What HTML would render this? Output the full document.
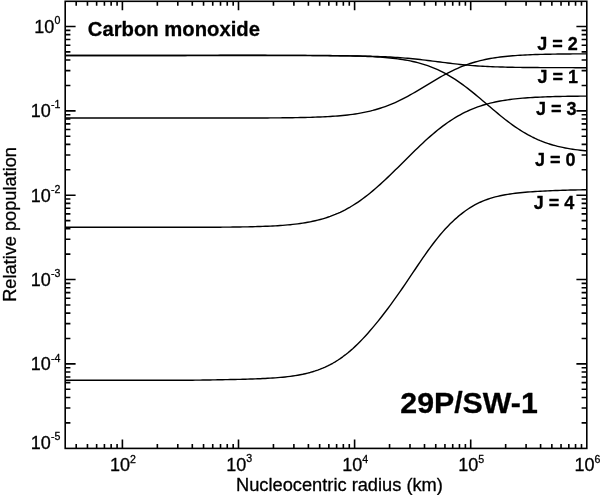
<!DOCTYPE html>
<html lang="en"><head><meta charset="utf-8"><title>Carbon monoxide relative population</title>
<style>html,body{margin:0;padding:0;background:#fff}svg{display:block}text{font-family:"Liberation Sans",sans-serif;fill:#000;stroke:#000;stroke-width:0.3px;stroke-linejoin:round}</style></head><body>
<svg width="600" height="495" viewBox="0 0 600 495">
<rect width="600" height="495" fill="#fff"/>
<path d="M76.20,448.4v-4.4M76.20,1.3v4.4M87.45,448.4v-4.4M87.45,1.3v4.4M96.64,448.4v-4.4M96.64,1.3v4.4M104.42,448.4v-4.4M104.42,1.3v4.4M111.15,448.4v-4.4M111.15,1.3v4.4M117.09,448.4v-4.4M117.09,1.3v4.4M122.40,448.4v-8.9M122.40,1.3v8.9M157.35,448.4v-4.4M157.35,1.3v4.4M177.79,448.4v-4.4M177.79,1.3v4.4M192.30,448.4v-4.4M192.30,1.3v4.4M203.55,448.4v-4.4M203.55,1.3v4.4M212.74,448.4v-4.4M212.74,1.3v4.4M220.52,448.4v-4.4M220.52,1.3v4.4M227.25,448.4v-4.4M227.25,1.3v4.4M233.19,448.4v-4.4M233.19,1.3v4.4M238.50,448.4v-8.9M238.50,1.3v8.9M273.45,448.4v-4.4M273.45,1.3v4.4M293.89,448.4v-4.4M293.89,1.3v4.4M308.40,448.4v-4.4M308.40,1.3v4.4M319.65,448.4v-4.4M319.65,1.3v4.4M328.84,448.4v-4.4M328.84,1.3v4.4M336.62,448.4v-4.4M336.62,1.3v4.4M343.35,448.4v-4.4M343.35,1.3v4.4M349.29,448.4v-4.4M349.29,1.3v4.4M354.60,448.4v-8.9M354.60,1.3v8.9M389.55,448.4v-4.4M389.55,1.3v4.4M409.99,448.4v-4.4M409.99,1.3v4.4M424.50,448.4v-4.4M424.50,1.3v4.4M435.75,448.4v-4.4M435.75,1.3v4.4M444.94,448.4v-4.4M444.94,1.3v4.4M452.72,448.4v-4.4M452.72,1.3v4.4M459.45,448.4v-4.4M459.45,1.3v4.4M465.39,448.4v-4.4M465.39,1.3v4.4M470.70,448.4v-8.9M470.70,1.3v8.9M505.65,448.4v-4.4M505.65,1.3v4.4M526.09,448.4v-4.4M526.09,1.3v4.4M540.60,448.4v-4.4M540.60,1.3v4.4M551.85,448.4v-4.4M551.85,1.3v4.4M561.04,448.4v-4.4M561.04,1.3v4.4M568.82,448.4v-4.4M568.82,1.3v4.4M575.55,448.4v-4.4M575.55,1.3v4.4M581.49,448.4v-4.4M581.49,1.3v4.4M65.2,422.86h5.2M586.8,422.86h-5.2M65.2,408.00h5.2M586.8,408.00h-5.2M65.2,397.47h5.2M586.8,397.47h-5.2M65.2,389.29h5.2M586.8,389.29h-5.2M65.2,382.61h5.2M586.8,382.61h-5.2M65.2,376.97h5.2M586.8,376.97h-5.2M65.2,372.07h5.2M586.8,372.07h-5.2M65.2,367.76h5.2M586.8,367.76h-5.2M65.2,363.90h10.4M586.8,363.90h-10.4M65.2,338.51h5.2M586.8,338.51h-5.2M65.2,323.65h5.2M586.8,323.65h-5.2M65.2,313.12h5.2M586.8,313.12h-5.2M65.2,304.94h5.2M586.8,304.94h-5.2M65.2,298.26h5.2M586.8,298.26h-5.2M65.2,292.62h5.2M586.8,292.62h-5.2M65.2,287.72h5.2M586.8,287.72h-5.2M65.2,283.41h5.2M586.8,283.41h-5.2M65.2,279.55h10.4M586.8,279.55h-10.4M65.2,254.16h5.2M586.8,254.16h-5.2M65.2,239.30h5.2M586.8,239.30h-5.2M65.2,228.77h5.2M586.8,228.77h-5.2M65.2,220.59h5.2M586.8,220.59h-5.2M65.2,213.91h5.2M586.8,213.91h-5.2M65.2,208.27h5.2M586.8,208.27h-5.2M65.2,203.37h5.2M586.8,203.37h-5.2M65.2,199.06h5.2M586.8,199.06h-5.2M65.2,195.20h10.4M586.8,195.20h-10.4M65.2,169.81h5.2M586.8,169.81h-5.2M65.2,154.95h5.2M586.8,154.95h-5.2M65.2,144.42h5.2M586.8,144.42h-5.2M65.2,136.24h5.2M586.8,136.24h-5.2M65.2,129.56h5.2M586.8,129.56h-5.2M65.2,123.92h5.2M586.8,123.92h-5.2M65.2,119.02h5.2M586.8,119.02h-5.2M65.2,114.71h5.2M586.8,114.71h-5.2M65.2,110.85h10.4M586.8,110.85h-10.4M65.2,85.46h5.2M586.8,85.46h-5.2M65.2,70.60h5.2M586.8,70.60h-5.2M65.2,60.07h5.2M586.8,60.07h-5.2M65.2,51.89h5.2M586.8,51.89h-5.2M65.2,45.21h5.2M586.8,45.21h-5.2M65.2,39.57h5.2M586.8,39.57h-5.2M65.2,34.67h5.2M586.8,34.67h-5.2M65.2,30.36h5.2M586.8,30.36h-5.2M65.2,26.50h10.4M586.8,26.50h-10.4" stroke="#000" stroke-width="1.6" fill="none"/>
<rect x="65.2" y="1.3" width="521.5999999999999" height="447.09999999999997" fill="none" stroke="#000" stroke-width="1.6"/>
<path d="M65.2,55.50 L67.7,55.50 L70.2,55.50 L72.7,55.50 L75.2,55.50 L77.7,55.50 L80.2,55.50 L82.7,55.50 L85.2,55.50 L87.7,55.50 L90.2,55.50 L92.7,55.50 L95.2,55.50 L97.7,55.50 L100.2,55.50 L102.7,55.50 L105.2,55.50 L107.7,55.50 L110.2,55.50 L112.7,55.50 L115.2,55.50 L117.7,55.50 L120.2,55.50 L122.7,55.50 L125.2,55.50 L127.7,55.50 L130.2,55.50 L132.7,55.50 L135.2,55.50 L137.7,55.50 L140.2,55.50 L142.7,55.50 L145.2,55.50 L147.7,55.50 L150.2,55.50 L152.7,55.50 L155.2,55.50 L157.7,55.50 L160.2,55.50 L162.7,55.50 L165.2,55.50 L167.7,55.50 L170.2,55.50 L172.7,55.50 L175.2,55.50 L177.7,55.50 L180.2,55.50 L182.7,55.50 L185.2,55.50 L187.7,55.50 L190.2,55.50 L192.7,55.50 L195.2,55.50 L197.7,55.50 L200.2,55.50 L202.7,55.50 L205.2,55.50 L207.7,55.50 L210.2,55.50 L212.7,55.50 L215.2,55.50 L217.7,55.50 L220.2,55.50 L222.7,55.50 L225.2,55.50 L227.7,55.50 L230.2,55.50 L232.7,55.50 L235.2,55.50 L237.7,55.50 L240.2,55.51 L242.7,55.51 L245.2,55.51 L247.7,55.51 L250.2,55.51 L252.7,55.51 L255.2,55.51 L257.7,55.51 L260.2,55.51 L262.7,55.51 L265.2,55.51 L267.7,55.52 L270.2,55.52 L272.7,55.52 L275.2,55.52 L277.7,55.52 L280.2,55.53 L282.7,55.53 L285.2,55.53 L287.7,55.53 L290.2,55.54 L292.7,55.54 L295.2,55.55 L297.7,55.55 L300.2,55.56 L302.7,55.56 L305.2,55.57 L307.7,55.58 L310.2,55.58 L312.7,55.59 L315.2,55.60 L317.7,55.61 L320.2,55.62 L322.7,55.63 L325.2,55.65 L327.7,55.66 L330.2,55.68 L332.7,55.69 L335.2,55.71 L337.7,55.73 L340.2,55.76 L342.7,55.78 L345.2,55.81 L347.7,55.84 L350.2,55.87 L352.7,55.91 L355.2,55.95 L357.7,55.99 L360.2,56.04 L362.7,56.09 L365.2,56.14 L367.7,56.21 L370.2,56.27 L372.7,56.35 L375.2,56.43 L377.7,56.51 L380.2,56.61 L382.7,56.71 L385.2,56.82 L387.7,56.94 L390.2,57.07 L392.7,57.21 L395.2,57.36 L397.7,57.53 L400.2,57.70 L402.7,57.89 L405.2,58.09 L407.7,58.30 L410.2,58.53 L412.7,58.77 L415.2,59.02 L417.7,59.28 L420.2,59.55 L422.7,59.84 L425.2,60.13 L427.7,60.44 L430.2,60.75 L432.7,61.07 L435.2,61.39 L437.7,61.71 L440.2,62.04 L442.7,62.36 L445.2,62.68 L447.7,63.00 L450.2,63.30 L452.7,63.60 L455.2,63.89 L457.7,64.17 L460.2,64.44 L462.7,64.70 L465.2,64.94 L467.7,65.17 L470.2,65.38 L472.7,65.58 L475.2,65.77 L477.7,65.94 L480.2,66.10 L482.7,66.25 L485.2,66.39 L487.7,66.51 L490.2,66.63 L492.7,66.73 L495.2,66.83 L497.7,66.91 L500.2,66.99 L502.7,67.06 L505.2,67.13 L507.7,67.19 L510.2,67.24 L512.7,67.29 L515.2,67.33 L517.7,67.37 L520.2,67.40 L522.7,67.43 L525.2,67.46 L527.7,67.49 L530.2,67.51 L532.7,67.53 L535.2,67.55 L537.7,67.56 L540.2,67.58 L542.7,67.59 L545.2,67.60 L547.7,67.61 L550.2,67.62 L552.7,67.63 L555.2,67.64 L557.7,67.64 L560.2,67.65 L562.7,67.66 L565.2,67.66 L567.7,67.67 L570.2,67.67 L572.7,67.67 L575.2,67.68 L577.7,67.68 L580.2,67.68 L582.7,67.68 L585.2,67.69 L586.5,67.69" stroke="#000" stroke-width="1.4" fill="none" stroke-linejoin="round"/>
<path d="M65.2,55.50 L67.7,55.50 L70.2,55.50 L72.7,55.50 L75.2,55.50 L77.7,55.50 L80.2,55.50 L82.7,55.50 L85.2,55.50 L87.7,55.50 L90.2,55.50 L92.7,55.50 L95.2,55.50 L97.7,55.50 L100.2,55.50 L102.7,55.50 L105.2,55.50 L107.7,55.50 L110.2,55.50 L112.7,55.50 L115.2,55.50 L117.7,55.50 L120.2,55.50 L122.7,55.50 L125.2,55.50 L127.7,55.50 L130.2,55.50 L132.7,55.50 L135.2,55.50 L137.7,55.50 L140.2,55.50 L142.7,55.50 L145.2,55.50 L147.7,55.50 L150.2,55.50 L152.7,55.50 L155.2,55.50 L157.7,55.50 L160.2,55.49 L162.7,55.49 L165.2,55.48 L167.7,55.48 L170.2,55.47 L172.7,55.47 L175.2,55.46 L177.7,55.45 L180.2,55.44 L182.7,55.44 L185.2,55.43 L187.7,55.42 L190.2,55.41 L192.7,55.40 L195.2,55.39 L197.7,55.38 L200.2,55.38 L202.7,55.37 L205.2,55.36 L207.7,55.35 L210.2,55.35 L212.7,55.34 L215.2,55.33 L217.7,55.33 L220.2,55.32 L222.7,55.32 L225.2,55.31 L227.7,55.31 L230.2,55.31 L232.7,55.31 L235.2,55.31 L237.7,55.31 L240.2,55.31 L242.7,55.31 L245.2,55.31 L247.7,55.31 L250.2,55.31 L252.7,55.32 L255.2,55.32 L257.7,55.32 L260.2,55.32 L262.7,55.32 L265.2,55.32 L267.7,55.33 L270.2,55.33 L272.7,55.33 L275.2,55.33 L277.7,55.34 L280.2,55.34 L282.7,55.34 L285.2,55.35 L287.7,55.35 L290.2,55.36 L292.7,55.36 L295.2,55.37 L297.7,55.38 L300.2,55.38 L302.7,55.39 L305.2,55.40 L307.7,55.41 L310.2,55.42 L312.7,55.43 L315.2,55.45 L317.7,55.46 L320.2,55.48 L322.7,55.50 L325.2,55.52 L327.7,55.54 L330.2,55.56 L332.7,55.59 L335.2,55.62 L337.7,55.65 L340.2,55.69 L342.7,55.73 L345.2,55.77 L347.7,55.82 L350.2,55.87 L352.7,55.93 L355.2,56.00 L357.7,56.07 L360.2,56.14 L362.7,56.23 L365.2,56.32 L367.7,56.43 L370.2,56.54 L372.7,56.67 L375.2,56.81 L377.7,56.96 L380.2,57.13 L382.7,57.31 L385.2,57.51 L387.7,57.73 L390.2,57.97 L392.7,58.24 L395.2,58.53 L397.7,58.84 L400.2,59.19 L402.7,59.57 L405.2,59.98 L407.7,60.43 L410.2,60.92 L412.7,61.45 L415.2,62.02 L417.7,62.65 L420.2,63.32 L422.7,64.05 L425.2,64.83 L427.7,65.68 L430.2,66.58 L432.7,67.55 L435.2,68.59 L437.7,69.69 L440.2,70.87 L442.7,72.12 L445.2,73.43 L447.7,74.82 L450.2,76.29 L452.7,77.82 L455.2,79.42 L457.7,81.09 L460.2,82.83 L462.7,84.63 L465.2,86.48 L467.7,88.39 L470.2,90.35 L472.7,92.35 L475.2,94.39 L477.7,96.47 L480.2,98.56 L482.7,100.68 L485.2,102.81 L487.7,104.94 L490.2,107.08 L492.7,109.20 L495.2,111.30 L497.7,113.39 L500.2,115.44 L502.7,117.46 L505.2,119.44 L507.7,121.37 L510.2,123.25 L512.7,125.07 L515.2,126.83 L517.7,128.53 L520.2,130.16 L522.7,131.72 L525.2,133.21 L527.7,134.63 L530.2,135.97 L532.7,137.25 L535.2,138.45 L537.7,139.58 L540.2,140.64 L542.7,141.63 L545.2,142.56 L547.7,143.43 L550.2,144.23 L552.7,144.98 L555.2,145.67 L557.7,146.31 L560.2,146.90 L562.7,147.44 L565.2,147.94 L567.7,148.40 L570.2,148.82 L572.7,149.21 L575.2,149.57 L577.7,149.89 L580.2,150.18 L582.7,150.45 L585.2,150.70 L586.5,150.82" stroke="#000" stroke-width="1.4" fill="none" stroke-linejoin="round"/>
<path d="M65.2,118.00 L67.7,118.00 L70.2,118.00 L72.7,118.00 L75.2,118.00 L77.7,118.00 L80.2,118.00 L82.7,118.00 L85.2,118.00 L87.7,118.00 L90.2,118.00 L92.7,118.00 L95.2,118.00 L97.7,118.00 L100.2,118.00 L102.7,118.00 L105.2,118.00 L107.7,118.00 L110.2,118.00 L112.7,118.00 L115.2,118.00 L117.7,118.00 L120.2,118.00 L122.7,118.00 L125.2,118.00 L127.7,118.00 L130.2,118.00 L132.7,118.00 L135.2,118.00 L137.7,118.00 L140.2,118.00 L142.7,118.00 L145.2,118.00 L147.7,118.00 L150.2,118.00 L152.7,118.00 L155.2,118.00 L157.7,118.00 L160.2,118.00 L162.7,118.00 L165.2,118.01 L167.7,118.01 L170.2,118.01 L172.7,118.01 L175.2,118.01 L177.7,118.02 L180.2,118.02 L182.7,118.02 L185.2,118.02 L187.7,118.03 L190.2,118.03 L192.7,118.03 L195.2,118.03 L197.7,118.04 L200.2,118.04 L202.7,118.04 L205.2,118.04 L207.7,118.04 L210.2,118.04 L212.7,118.05 L215.2,118.05 L217.7,118.05 L220.2,118.04 L222.7,118.04 L225.2,118.04 L227.7,118.04 L230.2,118.04 L232.7,118.03 L235.2,118.03 L237.7,118.03 L240.2,118.02 L242.7,118.02 L245.2,118.01 L247.7,118.01 L250.2,118.00 L252.7,117.99 L255.2,117.98 L257.7,117.98 L260.2,117.97 L262.7,117.95 L265.2,117.94 L267.7,117.93 L270.2,117.91 L272.7,117.90 L275.2,117.88 L277.7,117.86 L280.2,117.84 L282.7,117.82 L285.2,117.79 L287.7,117.76 L290.2,117.73 L292.7,117.69 L295.2,117.66 L297.7,117.61 L300.2,117.57 L302.7,117.51 L305.2,117.46 L307.7,117.39 L310.2,117.33 L312.7,117.25 L315.2,117.17 L317.7,117.07 L320.2,116.97 L322.7,116.86 L325.2,116.74 L327.7,116.61 L330.2,116.46 L332.7,116.30 L335.2,116.12 L337.7,115.93 L340.2,115.71 L342.7,115.48 L345.2,115.23 L347.7,114.95 L350.2,114.65 L352.7,114.32 L355.2,113.96 L357.7,113.57 L360.2,113.14 L362.7,112.68 L365.2,112.18 L367.7,111.64 L370.2,111.06 L372.7,110.44 L375.2,109.76 L377.7,109.04 L380.2,108.27 L382.7,107.45 L385.2,106.57 L387.7,105.64 L390.2,104.65 L392.7,103.61 L395.2,102.52 L397.7,101.37 L400.2,100.17 L402.7,98.92 L405.2,97.63 L407.7,96.29 L410.2,94.91 L412.7,93.50 L415.2,92.05 L417.7,90.58 L420.2,89.08 L422.7,87.58 L425.2,86.06 L427.7,84.55 L430.2,83.04 L432.7,81.53 L435.2,80.05 L437.7,78.59 L440.2,77.15 L442.7,75.75 L445.2,74.39 L447.7,73.07 L450.2,71.80 L452.7,70.58 L455.2,69.40 L457.7,68.28 L460.2,67.22 L462.7,66.21 L465.2,65.26 L467.7,64.36 L470.2,63.52 L472.7,62.73 L475.2,61.99 L477.7,61.30 L480.2,60.66 L482.7,60.07 L485.2,59.52 L487.7,59.02 L490.2,58.55 L492.7,58.12 L495.2,57.73 L497.7,57.37 L500.2,57.04 L502.7,56.74 L505.2,56.46 L507.7,56.21 L510.2,55.98 L512.7,55.77 L515.2,55.58 L517.7,55.40 L520.2,55.24 L522.7,55.10 L525.2,54.97 L527.7,54.85 L530.2,54.74 L532.7,54.65 L535.2,54.56 L537.7,54.48 L540.2,54.41 L542.7,54.34 L545.2,54.28 L547.7,54.23 L550.2,54.18 L552.7,54.14 L555.2,54.10 L557.7,54.06 L560.2,54.03 L562.7,54.00 L565.2,53.97 L567.7,53.95 L570.2,53.93 L572.7,53.91 L575.2,53.89 L577.7,53.87 L580.2,53.86 L582.7,53.85 L585.2,53.83 L586.5,53.83" stroke="#000" stroke-width="1.4" fill="none" stroke-linejoin="round"/>
<path d="M65.2,227.30 L67.7,227.30 L70.2,227.30 L72.7,227.30 L75.2,227.30 L77.7,227.30 L80.2,227.30 L82.7,227.30 L85.2,227.30 L87.7,227.30 L90.2,227.30 L92.7,227.30 L95.2,227.30 L97.7,227.30 L100.2,227.30 L102.7,227.30 L105.2,227.30 L107.7,227.30 L110.2,227.30 L112.7,227.30 L115.2,227.30 L117.7,227.30 L120.2,227.30 L122.7,227.30 L125.2,227.30 L127.7,227.30 L130.2,227.30 L132.7,227.30 L135.2,227.30 L137.7,227.30 L140.2,227.30 L142.7,227.30 L145.2,227.30 L147.7,227.30 L150.2,227.30 L152.7,227.30 L155.2,227.30 L157.7,227.30 L160.2,227.30 L162.7,227.30 L165.2,227.30 L167.7,227.30 L170.2,227.30 L172.7,227.30 L175.2,227.31 L177.7,227.31 L180.2,227.31 L182.7,227.31 L185.2,227.30 L187.7,227.30 L190.2,227.30 L192.7,227.30 L195.2,227.30 L197.7,227.29 L200.2,227.29 L202.7,227.28 L205.2,227.27 L207.7,227.26 L210.2,227.25 L212.7,227.24 L215.2,227.22 L217.7,227.21 L220.2,227.19 L222.7,227.17 L225.2,227.15 L227.7,227.12 L230.2,227.09 L232.7,227.06 L235.2,227.03 L237.7,227.00 L240.2,226.96 L242.7,226.92 L245.2,226.88 L247.7,226.83 L250.2,226.77 L252.7,226.71 L255.2,226.65 L257.7,226.57 L260.2,226.50 L262.7,226.41 L265.2,226.31 L267.7,226.21 L270.2,226.09 L272.7,225.97 L275.2,225.83 L277.7,225.68 L280.2,225.51 L282.7,225.33 L285.2,225.13 L287.7,224.92 L290.2,224.68 L292.7,224.42 L295.2,224.14 L297.7,223.83 L300.2,223.49 L302.7,223.13 L305.2,222.73 L307.7,222.29 L310.2,221.82 L312.7,221.31 L315.2,220.76 L317.7,220.16 L320.2,219.51 L322.7,218.81 L325.2,218.06 L327.7,217.25 L330.2,216.39 L332.7,215.45 L335.2,214.46 L337.7,213.40 L340.2,212.27 L342.7,211.06 L345.2,209.79 L347.7,208.44 L350.2,207.02 L352.7,205.52 L355.2,203.95 L357.7,202.30 L360.2,200.57 L362.7,198.78 L365.2,196.91 L367.7,194.97 L370.2,192.97 L372.7,190.90 L375.2,188.78 L377.7,186.59 L380.2,184.36 L382.7,182.07 L385.2,179.74 L387.7,177.38 L390.2,174.98 L392.7,172.55 L395.2,170.10 L397.7,167.63 L400.2,165.14 L402.7,162.65 L405.2,160.16 L407.7,157.68 L410.2,155.20 L412.7,152.74 L415.2,150.30 L417.7,147.88 L420.2,145.50 L422.7,143.15 L425.2,140.84 L427.7,138.57 L430.2,136.36 L432.7,134.20 L435.2,132.10 L437.7,130.06 L440.2,128.08 L442.7,126.17 L445.2,124.32 L447.7,122.55 L450.2,120.85 L452.7,119.23 L455.2,117.67 L457.7,116.19 L460.2,114.79 L462.7,113.46 L465.2,112.20 L467.7,111.01 L470.2,109.89 L472.7,108.84 L475.2,107.86 L477.7,106.93 L480.2,106.07 L482.7,105.27 L485.2,104.52 L487.7,103.82 L490.2,103.18 L492.7,102.58 L495.2,102.03 L497.7,101.52 L500.2,101.04 L502.7,100.61 L505.2,100.20 L507.7,99.84 L510.2,99.50 L512.7,99.18 L515.2,98.90 L517.7,98.63 L520.2,98.39 L522.7,98.17 L525.2,97.97 L527.7,97.79 L530.2,97.62 L532.7,97.46 L535.2,97.32 L537.7,97.19 L540.2,97.08 L542.7,96.97 L545.2,96.87 L547.7,96.78 L550.2,96.70 L552.7,96.63 L555.2,96.56 L557.7,96.50 L560.2,96.44 L562.7,96.39 L565.2,96.35 L567.7,96.31 L570.2,96.27 L572.7,96.24 L575.2,96.21 L577.7,96.18 L580.2,96.16 L582.7,96.13 L585.2,96.11 L586.5,96.10" stroke="#000" stroke-width="1.4" fill="none" stroke-linejoin="round"/>
<path d="M65.2,380.30 L67.7,380.30 L70.2,380.30 L72.7,380.30 L75.2,380.30 L77.7,380.30 L80.2,380.30 L82.7,380.30 L85.2,380.30 L87.7,380.30 L90.2,380.30 L92.7,380.30 L95.2,380.30 L97.7,380.30 L100.2,380.30 L102.7,380.30 L105.2,380.30 L107.7,380.30 L110.2,380.30 L112.7,380.30 L115.2,380.30 L117.7,380.30 L120.2,380.30 L122.7,380.30 L125.2,380.30 L127.7,380.30 L130.2,380.30 L132.7,380.30 L135.2,380.30 L137.7,380.30 L140.2,380.30 L142.7,380.30 L145.2,380.30 L147.7,380.30 L150.2,380.30 L152.7,380.30 L155.2,380.30 L157.7,380.30 L160.2,380.30 L162.7,380.30 L165.2,380.30 L167.7,380.30 L170.2,380.30 L172.7,380.29 L175.2,380.29 L177.7,380.28 L180.2,380.27 L182.7,380.26 L185.2,380.24 L187.7,380.23 L190.2,380.21 L192.7,380.19 L195.2,380.16 L197.7,380.13 L200.2,380.10 L202.7,380.07 L205.2,380.03 L207.7,380.00 L210.2,379.95 L212.7,379.91 L215.2,379.86 L217.7,379.82 L220.2,379.77 L222.7,379.71 L225.2,379.66 L227.7,379.61 L230.2,379.55 L232.7,379.50 L235.2,379.45 L237.7,379.39 L240.2,379.33 L242.7,379.27 L245.2,379.20 L247.7,379.13 L250.2,379.06 L252.7,378.97 L255.2,378.89 L257.7,378.79 L260.2,378.68 L262.7,378.57 L265.2,378.45 L267.7,378.31 L270.2,378.16 L272.7,378.00 L275.2,377.83 L277.7,377.63 L280.2,377.42 L282.7,377.18 L285.2,376.93 L287.7,376.64 L290.2,376.33 L292.7,375.99 L295.2,375.61 L297.7,375.20 L300.2,374.74 L302.7,374.25 L305.2,373.70 L307.7,373.10 L310.2,372.45 L312.7,371.73 L315.2,370.95 L317.7,370.10 L320.2,369.17 L322.7,368.17 L325.2,367.08 L327.7,365.90 L330.2,364.64 L332.7,363.27 L335.2,361.81 L337.7,360.25 L340.2,358.58 L342.7,356.81 L345.2,354.93 L347.7,352.95 L350.2,350.86 L352.7,348.66 L355.2,346.36 L357.7,343.96 L360.2,341.47 L362.7,338.87 L365.2,336.19 L367.7,333.43 L370.2,330.58 L372.7,327.66 L375.2,324.67 L377.7,321.60 L380.2,318.47 L382.7,315.28 L385.2,312.03 L387.7,308.72 L390.2,305.35 L392.7,301.93 L395.2,298.45 L397.7,294.93 L400.2,291.37 L402.7,287.76 L405.2,284.11 L407.7,280.43 L410.2,276.71 L412.7,272.98 L415.2,269.24 L417.7,265.51 L420.2,261.81 L422.7,258.15 L425.2,254.55 L427.7,251.02 L430.2,247.57 L432.7,244.22 L435.2,240.97 L437.7,237.83 L440.2,234.80 L442.7,231.88 L445.2,229.08 L447.7,226.40 L450.2,223.85 L452.7,221.42 L455.2,219.11 L457.7,216.91 L460.2,214.83 L462.7,212.86 L465.2,211.00 L467.7,209.26 L470.2,207.64 L472.7,206.13 L475.2,204.73 L477.7,203.43 L480.2,202.24 L482.7,201.14 L485.2,200.14 L487.7,199.22 L490.2,198.39 L492.7,197.63 L495.2,196.93 L497.7,196.31 L500.2,195.74 L502.7,195.22 L505.2,194.75 L507.7,194.33 L510.2,193.94 L512.7,193.59 L515.2,193.27 L517.7,192.98 L520.2,192.71 L522.7,192.47 L525.2,192.25 L527.7,192.04 L530.2,191.85 L532.7,191.68 L535.2,191.52 L537.7,191.37 L540.2,191.22 L542.7,191.09 L545.2,190.97 L547.7,190.85 L550.2,190.74 L552.7,190.64 L555.2,190.55 L557.7,190.45 L560.2,190.37 L562.7,190.29 L565.2,190.21 L567.7,190.14 L570.2,190.07 L572.7,190.01 L575.2,189.95 L577.7,189.90 L580.2,189.85 L582.7,189.81 L585.2,189.77 L586.5,189.75" stroke="#000" stroke-width="1.4" fill="none" stroke-linejoin="round"/>
<text x="60.3" y="32.5" text-anchor="end" font-size="18">10<tspan font-size="10.6" dy="-8.5">0</tspan></text>
<text x="60.3" y="116.9" text-anchor="end" font-size="18">10<tspan font-size="10.6" dy="-8.5">-1</tspan></text>
<text x="60.3" y="201.9" text-anchor="end" font-size="18">10<tspan font-size="10.6" dy="-8.5">-2</tspan></text>
<text x="60.3" y="285.5" text-anchor="end" font-size="18">10<tspan font-size="10.6" dy="-8.5">-3</tspan></text>
<text x="60.3" y="370.0" text-anchor="end" font-size="18">10<tspan font-size="10.6" dy="-8.5">-4</tspan></text>
<text x="60.3" y="448.5" text-anchor="end" font-size="18">10<tspan font-size="10.6" dy="-8.5">-5</tspan></text>
<text x="123.0" y="471.3" text-anchor="middle" font-size="18">10<tspan font-size="10.6" dy="-8.5">2</tspan></text>
<text x="239.1" y="470.9" text-anchor="middle" font-size="18">10<tspan font-size="10.6" dy="-8.5">3</tspan></text>
<text x="355.2" y="471.3" text-anchor="middle" font-size="18">10<tspan font-size="10.6" dy="-8.5">4</tspan></text>
<text x="471.3" y="471.3" text-anchor="middle" font-size="18">10<tspan font-size="10.6" dy="-8.5">5</tspan></text>
<text x="587.4" y="471.0" text-anchor="middle" font-size="18">10<tspan font-size="10.6" dy="-8.5">6</tspan></text>
<text x="236" y="490.6" font-size="18.25">Nucleocentric radius (km)</text>
<text transform="translate(16,301.8) rotate(-90)" font-size="18.2">Relative population</text>
<text x="87.8" y="36.3" font-size="20.25" font-weight="bold">Carbon monoxide</text>
<text x="400.3" y="412.5" font-size="30.3" font-weight="bold">29P/SW-1</text>
<text x="537.3" y="50.4" font-size="18" font-weight="bold">J = 2</text>
<text x="537.5" y="82.7" font-size="18" font-weight="bold">J = 1</text>
<text x="536.1" y="114.9" font-size="18" font-weight="bold">J = 3</text>
<text x="534.9" y="165.8" font-size="18" font-weight="bold">J = 0</text>
<text x="533.7" y="208.6" font-size="18" font-weight="bold">J = 4</text>
</svg></body></html>
